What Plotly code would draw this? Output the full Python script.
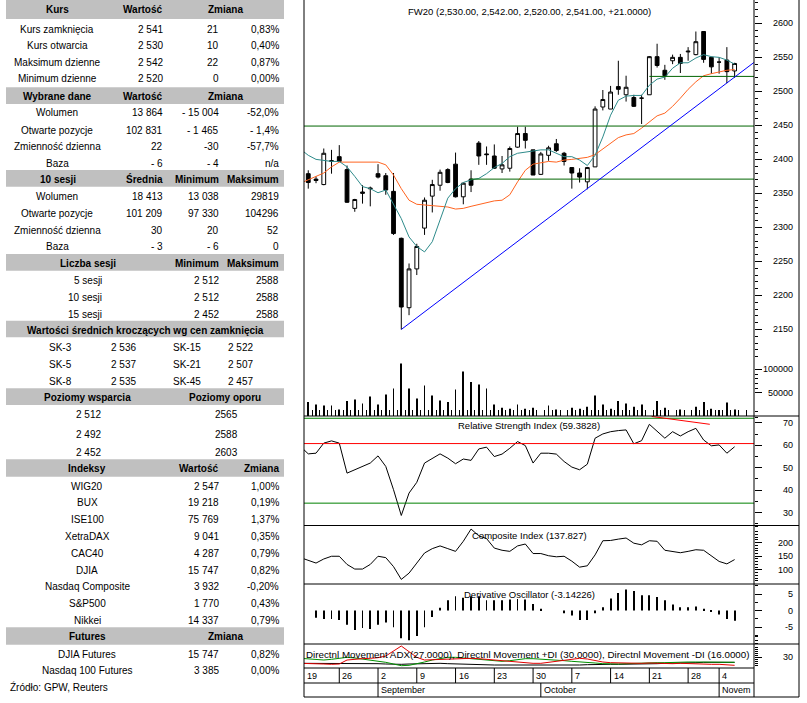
import plotly.graph_objects as go

W, H = 807, 703
FONT = "Liberation Sans, Arial, sans-serif"


def px(x):
    return x / W


def py(y):
    return 1 - y / H


# ---------------- data: sessions (trading days) ----------------
sessions = [
    "2013-08-19", "2013-08-20", "2013-08-21", "2013-08-22", "2013-08-23",
    "2013-08-26", "2013-08-27", "2013-08-28", "2013-08-29", "2013-08-30",
    "2013-09-02", "2013-09-03", "2013-09-04", "2013-09-05", "2013-09-06",
    "2013-09-09", "2013-09-10", "2013-09-11", "2013-09-12", "2013-09-13",
    "2013-09-16", "2013-09-17", "2013-09-18", "2013-09-19", "2013-09-20",
    "2013-09-23", "2013-09-24", "2013-09-25", "2013-09-26", "2013-09-27",
    "2013-09-30", "2013-10-01", "2013-10-02", "2013-10-03", "2013-10-04",
    "2013-10-07", "2013-10-08", "2013-10-09", "2013-10-10", "2013-10-11",
    "2013-10-14", "2013-10-15", "2013-10-16", "2013-10-17", "2013-10-18",
    "2013-10-21", "2013-10-22", "2013-10-23", "2013-10-24", "2013-10-25",
    "2013-10-28", "2013-10-29", "2013-10-30", "2013-10-31",
    "2013-11-04", "2013-11-05", "2013-11-06",
]

# candles for sessions[1:]
opens = [2379, 2371, 2363, 2397, 2404, 2385, 2328, 2350, 2358, 2379,
         2376, 2353, 2284, 2182, 2239, 2299, 2346, 2362, 2385, 2393,
         2345, 2371, 2424, 2408, 2405, 2386, 2387, 2418, 2438, 2414,
         2378, 2406, 2423, 2409, 2388, 2380, 2367, 2389, 2477, 2474,
         2507, 2495, 2491, 2490, 2495, 2551, 2531, 2545, 2550, 2558,
         2554, 2588, 2550, 2543, 2546, 2530]
highs = [2384, 2375, 2416, 2414, 2421, 2391, 2342, 2362, 2360, 2393,
         2380, 2380, 2285, 2247, 2276, 2344, 2370, 2385, 2387, 2410,
         2366, 2384, 2427, 2419, 2422, 2405, 2419, 2448, 2448, 2414,
         2411, 2420, 2430, 2411, 2388, 2387, 2389, 2478, 2502, 2508,
         2545, 2523, 2495, 2495, 2552, 2570, 2539, 2554, 2555, 2565,
         2588, 2588, 2551, 2550, 2565, 2542]
lows = [2357, 2365, 2362, 2379, 2396, 2336, 2323, 2335, 2331, 2372,
        2348, 2289, 2150, 2171, 2230, 2289, 2322, 2354, 2365, 2344,
        2334, 2352, 2392, 2392, 2386, 2380, 2382, 2417, 2416, 2377,
        2377, 2398, 2411, 2391, 2357, 2366, 2356, 2389, 2472, 2474,
        2495, 2485, 2477, 2452, 2495, 2535, 2517, 2540, 2527, 2545,
        2553, 2542, 2526, 2526, 2512, 2520]
closes = [2366, 2369, 2409, 2398, 2397, 2337, 2341, 2352, 2357, 2374,
          2355, 2291, 2183, 2239, 2272, 2340, 2363, 2381, 2366, 2345,
          2365, 2362, 2405, 2407, 2387, 2392, 2416, 2438, 2428, 2377,
          2408, 2417, 2413, 2397, 2380, 2374, 2388, 2474, 2488, 2499,
          2503, 2506, 2478, 2490, 2551, 2538, 2523, 2550, 2541, 2559,
          2573, 2547, 2536, 2543, 2529, 2541]

volume = [None, 29800, 24900, 22700, 22700, 14200, 32000, 35600, 27000, 42000,
          24900, 46300, 59200, 112900, 59200, 37800, 65600, 44200, 33500, 29800,
          57100, 95700, 72800, 67800, 59200, 24900, 17800, 15700, 24900, 15700,
          17800, None, 22700, 14200, None, 17800, 15700, 20000, 44200, 24900,
          15700, 32000, 27000, 20000, 24900, None, 32000, 17800, None, 14200,
          None, 20000, 29819, 15700, 13038, 28868, 13864]

ma_short = [2415, 2406, 2400, 2398, 2397, 2397, 2389, 2375, 2360, 2357,
            2351, 2355, 2335, 2313, 2286, 2272, 2264, 2279, 2311, 2343,
            2357, 2366, 2370, 2372, 2379, 2388, 2394, 2404, 2409, 2411,
            2413, 2414, 2414, 2409, 2404, 2404, 2399, 2391, 2406, 2433,
            2465, 2487, 2493, 2494, 2494, 2509, 2518, 2521, 2534, 2542,
            2542, 2549, 2554, 2551, 2550, 2546, 2540]
ma_long = [2365, 2370, 2375, 2380, 2389, 2396, 2396, 2396, 2396, 2396,
           2396, 2392, 2377, 2357, 2340, 2334, 2333, 2332, 2332, 2330,
           2327, 2328, 2331, 2334, 2336, 2339, 2340, 2348, 2367, 2384,
           2393, 2395, 2397, 2396, 2399, 2400, 2401, 2403, 2407, 2415,
           2424, 2432, 2436, 2438, 2446, 2455, 2464, 2468, 2478, 2490,
           2503, 2514, 2523, 2526, 2529, 2531, 2532]

rsi = [59.5, 56.2, 56.5, 61.0, 62.0, 61.0, 47.6, 49.1, 50.6, 52.1,
       55.3, 50.6, 40.2, 28.7, 38.7, 43.5, 52.1, 54.3, 56.2, 54.3,
       51.8, 53.9, 53.3, 58.4, 59.2, 55.0, 56.1, 58.7, 61.7, 59.9,
       52.1, 56.5, 56.5, 56.1, 52.8, 50.3, 49.1, 51.6, 63.2, 65.1,
       66.1, 66.6, 66.9, 60.7, 62.1, 69.4, 66.4, 63.2, 66.1, 64.2,
       66.1, 67.6, 62.4, 59.8, 60.2, 56.5, 59.38]

composite = [145, 135, 125, 140, 150, 150, 120, 103, 103, 120,
             150, 145, 112, 65, 88, 125, 162, 178, 188, 178,
             168, 205, 250, 225, 215, 180, 172, 168, 188, 195,
             160, 160, 152, 148, 150, 132, 110, 115, 155, 207,
             208, 213, 217, 198, 192, 207, 205, 172, 168, 163,
             168, 174, 172, 152, 131, 122, 137.8]

deriv_osc = [None, None, -2.2, -2.6, -2.6, -2.9, -4.3, -5.9, -5.3, -5.6,
             -4.3, -3.6, -5.1, -8.4, -9.0, -7.7, -5.1, -2.0, 0.8, 3.1,
             4.3, 3.9, 4.3, 4.3, 3.1, 3.1, 3.1, 3.3, 3.5, 3.3,
             2.0, 0.5, None, None, -0.8, -1.5, -2.9, -2.9, -0.8, 1.0,
             3.6, 5.3, 6.4, 5.9, 4.6, 4.6, 4.1, 3.1, 1.8, 1.0,
             1.0, 1.2, 0.5, -0.2, -1.2, -2.6, -3.14]

dmi_red = [14.7, 14.7, 13.8, 13.0, 12.2, 13.0, 23.0, 25.5, 26.3, 27.2,
           28.8, 33.0, 46.3, 58.0, 43.8, 29.7, 23.0, 23.8, 24.7, 24.7,
           25.5, 26.3, 27.2, 26.3, 24.7, 23.0, 20.5, 18.8, 18.0, 16.3,
           14.7, 14.7, 17.2, 20.5, 23.8, 26.3, 27.2, 25.5, 21.3, 18.0,
           16.3, 15.5, 14.7, 13.8, 14.7, 15.5, 14.7, 13.8, 13.8, 14.7,
           13.8, 13.0, 13.0, 12.2, 12.2, 11.3, 9.7]
dmi_green = [27.2, 26.3, 24.7, 23.0, 24.7, 28.0, 29.7, 28.0, 25.5, 23.0,
             20.5, 17.2, 13.0, 8.8, 9.7, 13.0, 18.0, 23.0, 27.2, 29.7,
             29.7, 28.0, 26.3, 24.7, 23.0, 21.3, 19.7, 21.3, 24.7, 26.3,
             26.3, 25.5, 24.7, 23.0, 21.3, 19.7, 18.8, 18.0, 15.5, 13.8,
             13.0, 13.0, 13.8, 14.7, 14.7, 15.5, 16.3, 16.3, 17.2, 17.2,
             18.0, 18.0, 18.0, 17.2, 17.2, 16.3, 17.2]
dmi_black = [14.7, 14.7, 14.7, 14.7, 15.5, 15.5, 15.5, 15.5, 14.7, 14.7,
             13.8, 13.0, 12.2, 12.2, 13.0, 13.8, 14.7, 14.7, 14.7, 13.8,
             13.0, 12.2, 12.2, 11.3, 11.3, 10.5, 10.5, 10.5, 10.5, 10.5,
             9.7, 9.7, 8.8, 8.8, 8.8, 9.7, 10.5, 11.3, 12.2, 12.2,
             12.2, 12.2, 12.2, 13.0, 13.0, 13.8, 13.8, 14.7, 14.7, 15.5,
             16.3, 16.3, 17.2, 17.2, 17.2, 17.2, 17.2]

# horizontal support/resistance lines (price, first session index)
hlines = [(2449, 0), (2371, 21.85), (2522, 45)]
trend_start = (13, 2150)
trend_end = (60, 2555.5)
rsi_levels = [(72.1, "#008000"), (60.8, "#ff0000"), (34.2, "#008000")]
rsi_trend = ((45.3, 72.9), (52.8, 69.4))

price_ticks = [2150, 2200, 2250, 2300, 2350, 2400, 2450, 2500, 2550, 2600]
vol_ticks = [50000, 100000]
rsi_ticks = [30, 40, 50, 60, 70]
comp_ticks = [100, 150, 200]
do_ticks = [-5, 0, 5]
dmi_ticks = [30]

week_idx = [0, 5, 10, 15, 20, 25, 30, 35, 40, 45, 50, 54]
week_labels = ["19", "26", "2", "9", "16", "23", "30", "7", "14", "21", "28", "4"]
month_idx = [10, 31, 54]
month_labels = ["September", "October", "Novem"]

chart_title = "FW20 (2,530.00, 2,542.00, 2,520.00, 2,541.00, +21.0000)"
rsi_title = "Relative Strength Index (59.3828)"
comp_title = "Composite Index (137.827)"
do_title = "Derivative Oscillator (-3.14226)"
dmi_title = ("Directnl Movement ADX(27.0000), Directnl Movement +DI (30.0000), "
             "Directnl Movement -DI (16.0000)")

# ---------------- data: left-hand table ----------------
kurs_labels = ["Kurs zamknięcia", "Kurs otwarcia", "Maksimum dzienne", "Minimum dzienne"]
kurs_values = ["2 541", "2 530", "2 542", "2 520"]
kurs_change = ["21", "10", "22", "0"]
kurs_pct = ["0,83%", "0,40%", "0,87%", "0,00%"]

dane_labels = ["Wolumen", "Otwarte pozycje", "Zmienność dzienna", "Baza"]
dane_values = ["13 864", "102 831", "22", "- 6"]
dane_change = ["- 15 004", "- 1 465", "-30", "- 4"]
dane_pct = ["-52,0%", "- 1,4%", "-57,7%", "n/a"]

s10_labels = ["Wolumen", "Otwarte pozycje", "Zmienność dzienna", "Baza"]
s10_avg = ["18 413", "101 209", "30", "- 3"]
s10_min = ["13 038", "97 330", "20", "- 6"]
s10_max = ["29819", "104296", "52", "0"]

ls_labels = ["5 sesji", "10 sesji", "15 sesji"]
ls_min = ["2 512", "2 512", "2 452"]
ls_max = ["2588", "2588", "2588"]

sk_left = ["SK-3", "SK-5", "SK-8"]
sk_left_val = ["2 536", "2 537", "2 535"]
sk_right = ["SK-15", "SK-21", "SK-45"]
sk_right_val = ["2 522", "2 507", "2 457"]

support = ["2 512", "2 492", "2 452"]
resistance = ["2565", "2588", "2603"]

idx_names = ["WIG20", "BUX", "ISE100", "XetraDAX", "CAC40", "DJIA",
             "Nasdaq Composite", "S&P500", "Nikkei"]
idx_values = ["2 547", "19 218", "75 769", "9 041", "4 287", "15 747",
              "3 932", "1 770", "14 337"]
idx_pct = ["1,00%", "0,19%", "1,37%", "0,35%", "0,79%", "0,82%",
           "-0,20%", "0,43%", "0,79%"]

fut_names = ["DJIA Futures", "Nasdaq 100 Futures"]
fut_values = ["15 747", "3 385"]
fut_pct = ["0,82%", "0,00%"]

source_note = "Źródło: GPW, Reuters"

# ---------------- figure ----------------
x_all = list(range(len(sessions)))
cx = x_all[1:]
X_RANGE = [0.45, 58.5]
BAR_W = 0.11

fig = go.Figure()

fig.add_trace(go.Bar(x=x_all, y=volume, width=BAR_W, xaxis="x", yaxis="y2",
                     marker=dict(color="black", line=dict(width=0)), hoverinfo="skip"))
fig.add_trace(go.Scatter(x=x_all, y=ma_long, mode="lines", xaxis="x", yaxis="y",
                         line=dict(color="#ff6420", width=1), hoverinfo="skip"))
fig.add_trace(go.Scatter(x=x_all, y=ma_short, mode="lines", xaxis="x", yaxis="y",
                         line=dict(color="#2e8b8b", width=1), hoverinfo="skip"))
fig.add_trace(go.Candlestick(
    x=cx, open=opens, high=highs, low=lows, close=closes, xaxis="x", yaxis="y",
    increasing=dict(line=dict(color="black", width=1), fillcolor="white"),
    decreasing=dict(line=dict(color="black", width=1), fillcolor="black"),
    whiskerwidth=0, hoverinfo="skip"))

fig.add_trace(go.Scatter(x=x_all, y=rsi, mode="lines", xaxis="x", yaxis="y3",
                         line=dict(color="black", width=1), hoverinfo="skip"))
fig.add_trace(go.Scatter(x=x_all, y=composite, mode="lines", xaxis="x", yaxis="y4",
                         line=dict(color="black", width=1), hoverinfo="skip"))
fig.add_trace(go.Bar(x=x_all, y=deriv_osc, width=BAR_W, xaxis="x", yaxis="y5",
                     marker=dict(color="black", line=dict(width=0)), hoverinfo="skip"))
fig.add_trace(go.Scatter(x=x_all, y=dmi_black, mode="lines", xaxis="x", yaxis="y6",
                         line=dict(color="black", width=1), hoverinfo="skip"))
fig.add_trace(go.Scatter(x=x_all, y=dmi_green, mode="lines", xaxis="x", yaxis="y6",
                         line=dict(color="#009000", width=1), hoverinfo="skip"))
fig.add_trace(go.Scatter(x=x_all, y=dmi_red, mode="lines", xaxis="x", yaxis="y6",
                         line=dict(color="#e00000", width=1), hoverinfo="skip"))

shapes = []
annotations = []

# price panel lines
for lvl, start in hlines:
    shapes.append(dict(type="line", xref="x", yref="y", x0=start, x1=60, y0=lvl, y1=lvl,
                       line=dict(color="#006400", width=1)))
shapes.append(dict(type="line", xref="x", yref="y", x0=trend_start[0], y0=trend_start[1],
                   x1=trend_end[0], y1=trend_end[1], line=dict(color="#0000ff", width=1)))
for lvl, col in rsi_levels:
    shapes.append(dict(type="line", xref="x", yref="y3", x0=-1, x1=60, y0=lvl, y1=lvl,
                       line=dict(color=col, width=1)))
shapes.append(dict(type="line", xref="x", yref="y3", x0=rsi_trend[0][0], y0=rsi_trend[0][1],
                   x1=rsi_trend[1][0], y1=rsi_trend[1][1], line=dict(color="#ff0000", width=1)))


# frame
def pline(x0, y0, x1, y1, w=1, col="black"):
    shapes.append(dict(type="line", xref="paper", yref="paper", x0=px(x0), x1=px(x1),
                       y0=py(y0), y1=py(y1), line=dict(color=col, width=w)))


pline(304, 0, 304, 697)
pline(799, 0, 799, 697)
pline(754, 0, 754, 697)
pline(304, 697, 799, 697)
for yy in [416, 525.5, 584, 644]:
    pline(304, yy, 799, yy)
pline(304, 668, 754, 668)
pline(304, 683, 754, 683)

# date axis separators & labels
for i, lab in zip(week_idx, week_labels):
    shapes.append(dict(type="line", xref="x", yref="paper", x0=i, x1=i, y0=py(683), y1=py(668),
                       line=dict(color="black", width=1)))
    annotations.append(dict(x=max(i, X_RANGE[0] + 0.01), y=py(675.5), xref="x", yref="paper",
                            text=lab, showarrow=False, xanchor="left", yanchor="middle",
                            xshift=1, font=dict(size=9, family=FONT, color="black")))
for i, lab in zip(month_idx, month_labels):
    shapes.append(dict(type="line", xref="x", yref="paper", x0=i, x1=i, y0=py(697), y1=py(683),
                       line=dict(color="black", width=1)))
    annotations.append(dict(x=i, y=py(690), xref="x", yref="paper", text=lab, showarrow=False,
                            xanchor="left", yanchor="middle", xshift=1,
                            font=dict(size=9, family=FONT, color="black")))

# axis labels (right-aligned)
for ticks, yref in [(price_ticks, "y"), (vol_ticks, "y2"), (rsi_ticks, "y3"),
                    (comp_ticks, "y4"), (do_ticks, "y5"), (dmi_ticks, "y6")]:
    for v in ticks:
        annotations.append(dict(x=px(795), y=v, xref="paper", yref=yref, text=str(v),
                                showarrow=False, xanchor="right", yanchor="middle",
                                font=dict(size=9, family=FONT, color="black")))


# panel titles / table texts
def ptxt(x, y, s, anchor="center", size=9.5, bold=False, col="black"):
    if bold:
        s = "<b>" + s + "</b>"
    annotations.append(dict(x=px(x), y=py(y), xref="paper", yref="paper", text=s,
                            showarrow=False, xanchor=anchor, yanchor="middle",
                            font=dict(size=size, family=FONT, color=col)))


ptxt(529, 11, chart_title)
ptxt(529, 425.7, rsi_title)
ptxt(529, 535, comp_title)
ptxt(529, 594, do_title)
ptxt(304, 654, dmi_title, anchor="left", size=9.8)

# ---------------- left table ----------------
BAND = "#c0c0c0"
TS = 10


def band(y0, y1):
    shapes.append(dict(type="rect", xref="paper", yref="paper", x0=px(6), x1=px(284),
                       y0=py(y1), y1=py(y0), fillcolor=BAND, line=dict(width=0), layer="below"))


# Kurs
band(0, 19)
ptxt(57, 9.5, "Kurs", size=TS, bold=True)
ptxt(165, 9.5, "Wartość", "right", TS, True)
ptxt(225, 9.5, "Zmiana", size=TS, bold=True)
for k, yy in enumerate([29, 45.3, 62, 79]):
    ptxt(57, yy, kurs_labels[k], size=TS)
    ptxt(164.5, yy, kurs_values[k], "right", TS)
    ptxt(220.5, yy, kurs_change[k], "right", TS)
    ptxt(280.5, yy, kurs_pct[k], "right", TS)

# Wybrane dane
band(87.3, 104)
ptxt(57, 96, "Wybrane dane", size=TS, bold=True)
ptxt(165, 96, "Wartość", "right", TS, True)
ptxt(225, 96, "Zmiana", size=TS, bold=True)
for k, yy in enumerate([112.7, 130, 146.5, 163.3]):
    ptxt(57, yy, dane_labels[k], size=TS)
    ptxt(164.5, yy, dane_values[k], "right", TS)
    ptxt(220.5, yy, dane_change[k], "right", TS)
    ptxt(280.5, yy, dane_pct[k], "right", TS)

# 10 sesji
band(170, 186.7)
ptxt(58, 179.3, "10 sesji", size=TS, bold=True)
ptxt(165, 179.3, "Średnia", "right", TS, True)
ptxt(221, 179.3, "Minimum", "right", TS, True)
ptxt(280.5, 179.3, "Maksimum", "right", TS, True)
for k, yy in enumerate([196.7, 213.7, 230.7, 247]):
    ptxt(57, yy, s10_labels[k], size=TS)
    ptxt(164.5, yy, s10_avg[k], "right", TS)
    ptxt(220.5, yy, s10_min[k], "right", TS)
    ptxt(280.5, yy, s10_max[k], "right", TS)

# Liczba sesji
band(254, 270.7)
ptxt(88, 263.3, "Liczba sesji", size=TS, bold=True)
ptxt(221, 263.3, "Minimum", "right", TS, True)
ptxt(280.5, 263.3, "Maksimum", "right", TS, True)
for k, yy in enumerate([280.7, 297.7, 314]):
    ptxt(103.5, yy, ls_labels[k], "right", TS)
    ptxt(220.5, yy, ls_min[k], "right", TS)
    ptxt(280.5, yy, ls_max[k], "right", TS)

# Moving averages
band(320.7, 337.3)
ptxt(145, 330.7, "Wartości średnich kroczących wg cen zamknięcia", size=TS, bold=True)
for k, yy in enumerate([347.3, 364.7, 381.7]):
    ptxt(46.5, yy, sk_left[k], "left", TS)
    ptxt(109, yy, sk_left_val[k], "left", TS)
    ptxt(170.5, yy, sk_right[k], "left", TS)
    ptxt(226, yy, sk_right_val[k], "left", TS)

# Support / resistance
band(388.3, 405)
ptxt(87, 397.5, "Poziomy wsparcia", size=TS, bold=True)
ptxt(225, 397.5, "Poziomy oporu", size=TS, bold=True)
for k, yy in enumerate([414.3, 434.7, 452.3]):
    ptxt(88, yy, support[k], size=TS)
    ptxt(226, yy, resistance[k], size=TS)

# Indices
band(459.3, 476.7)
ptxt(87, 468.5, "Indeksy", size=TS, bold=True)
ptxt(221, 468.5, "Wartość", "right", TS, True)
ptxt(280.5, 468.5, "Zmiana", "right", TS, True)
for k, yy in enumerate([486, 502.7, 519.3, 536.7, 553.3, 570.7, 586.7, 603.3, 620]):
    ptxt(87, yy, idx_names[k], size=TS)
    ptxt(220.5, yy, idx_values[k], "right", TS)
    ptxt(280.5, yy, idx_pct[k], "right", TS)

# Futures
band(627.3, 644.7)
ptxt(87, 636.5, "Futures", size=TS, bold=True)
ptxt(225, 636.5, "Zmiana", size=TS, bold=True)
for k, yy in enumerate([654.7, 670.7]):
    ptxt(87, yy, fut_names[k], size=TS)
    ptxt(220.5, yy, fut_values[k], "right", TS)
    ptxt(280.5, yy, fut_pct[k], "right", TS)

ptxt(8, 687.3, source_note, "left", TS)


# ---------------- axes ----------------
def yax(domain, rng, tickvals, minor_vals, overlay=None):
    d = dict(range=rng, side="right", anchor="x", tickvals=tickvals, ticks="outside",
             ticklen=7, tickwidth=1, tickcolor="black", showticklabels=False,
             showgrid=False, zeroline=False, showline=False, fixedrange=True,
             minor=dict(tickvals=minor_vals, ticks="outside", ticklen=3,
                        tickcolor="black", tickwidth=1, showgrid=False))
    if overlay:
        d["overlaying"] = overlay
    else:
        d["domain"] = domain
    return d


price_minor = [v for v in range(2110, 2635, 10) if v % 50 != 0]
vol_minor = [10000, 60000, 70000, 80000, 90000]
rsi_minor = [25, 35, 45, 55, 65, 72.5]
comp_minor = [v for v in range(50, 261, 10) if v % 50 != 0]
do_minor = [-10, -9, -8, -7.5, -2.5, 2.5, 7.5]
dmi_minor = [10, 15, 20, 25, 35, 40, 45, 50, 55]

fig.update_layout(
    width=W, height=H, margin=dict(l=0, r=0, t=0, b=0),
    paper_bgcolor="white", plot_bgcolor="rgba(0,0,0,0)",
    showlegend=False, barmode="overlay", boxgap=0.3,
    font=dict(family=FONT, size=9, color="black"),
    xaxis=dict(domain=[px(304), px(754)], range=X_RANGE, anchor="y",
               showticklabels=False, ticks="inside", ticklen=6, tickcolor="black",
               tick0=0.5, dtick=1, showgrid=False, zeroline=False, showline=False,
               rangeslider=dict(visible=False), fixedrange=True),
    yaxis=yax([py(416), 1], [2022.8, 2634.3], price_ticks, price_minor),
    yaxis2=yax(None, [0, 893000], vol_ticks, vol_minor, overlay="y"),
    yaxis3=yax([py(525.5), py(416)], [24.22, 73.11], rsi_ticks, rsi_minor),
    yaxis4=yax([py(584), py(525.5)], [48.1, 263], comp_ticks, comp_minor),
    yaxis5=yax([py(644), py(584)], [-10.15, 8.03], do_ticks, do_minor),
    yaxis6=yax([py(668), py(644)], [3, 63], dmi_ticks, dmi_minor),
    shapes=shapes,
    annotations=annotations,
)

fig.write_html("out.html", config={"displayModeBar": False},
               post_script="document.body.style.margin='0';document.body.style.overflow='hidden';")
